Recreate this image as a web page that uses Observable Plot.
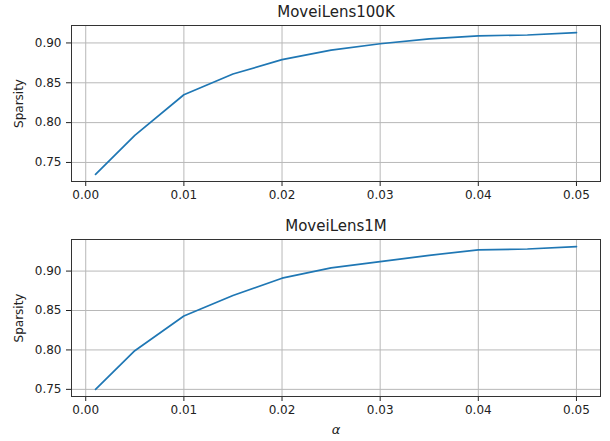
<!DOCTYPE html>
<html>
<head>
<meta charset="utf-8">
<script src="https://cdn.jsdelivr.net/npm/d3@7"></script>
<script src="https://cdn.jsdelivr.net/npm/@observablehq/plot@0.6"></script>
<style>
  html, body { margin: 0; padding: 0; background: #fff; }
  #chart { width: 610px; font-family: "DejaVu Sans", sans-serif; color: #222; }
  .title { height: 24px; line-height: 24px; font-size: 15px; text-align: center; padding-left: 62px; box-sizing: border-box; }
  svg { display: block; }
  g[aria-label="x-axis label"] text { font-style: italic; font-size: 13px; }
</style>
</head>
<body>
<div id="chart"></div>
<script>
const alpha = [0.001, 0.005, 0.01, 0.015, 0.02, 0.025, 0.03, 0.035, 0.04, 0.045, 0.05];
const sparsity100k = [0.735, 0.784, 0.835, 0.861, 0.879, 0.891, 0.899, 0.905, 0.909, 0.910, 0.913];
const sparsity1m = [0.750, 0.799, 0.843, 0.869, 0.891, 0.904, 0.912, 0.920, 0.927, 0.928, 0.931];
const xTicks = [0, 0.01, 0.02, 0.03, 0.04, 0.05];
const yTicks = [0.75, 0.80, 0.85, 0.90];
const titles = ["MoveiLens100K", "MoveiLens1M"];

function padded(arr) {
  const [lo, hi] = d3.extent(arr);
  const m = (hi - lo) * 0.05;
  return [lo - m, hi + m];
}

function panel(values, opts) {
  const data = alpha.map((a, i) => ({a, s: values[i]}));
  return Plot.plot({
    width: 610,
    height: opts.height,
    marginLeft: 71,
    marginRight: 10,
    marginTop: opts.marginTop,
    marginBottom: opts.marginBottom,
    style: {fontFamily: "DejaVu Sans, sans-serif", fontSize: "12px", color: "#222", background: "#fff"},
    x: {domain: padded(alpha)},
    y: {domain: padded(values)},
    marks: [
      Plot.gridX(xTicks, {stroke: "#b8b8b8", strokeOpacity: 1, strokeWidth: 1}),
      Plot.gridY(yTicks, {stroke: "#b8b8b8", strokeOpacity: 1, strokeWidth: 1}),
      Plot.axisX({ticks: xTicks, tickFormat: d3.format(".2f"), tickSize: 5, tickPadding: 4,
        label: opts.xLabel, labelAnchor: "center", labelArrow: "none", labelOffset: 37}),
      Plot.axisY({ticks: yTicks, tickFormat: d3.format(".2f"), tickSize: 5, tickPadding: 5,
        label: "Sparsity", labelAnchor: "center", labelArrow: "none", labelOffset: 57}),
      Plot.line(data, {x: "a", y: "s", stroke: "#1f77b4", strokeWidth: 1.7}),
      Plot.frame({stroke: "#333", strokeWidth: 1})
    ]
  });
}

const root = document.getElementById("chart");
const t1 = document.createElement("div"); t1.className = "title"; t1.textContent = titles[0];
root.appendChild(t1);
root.appendChild(panel(sparsity100k, {height: 190, marginTop: 1, marginBottom: 33, xLabel: null}));
const t2 = document.createElement("div"); t2.className = "title"; t2.textContent = titles[1];
root.appendChild(t2);
root.appendChild(panel(sparsity1m, {height: 203, marginTop: 1, marginBottom: 45, xLabel: "α"}));
</script>
</body>
</html>
